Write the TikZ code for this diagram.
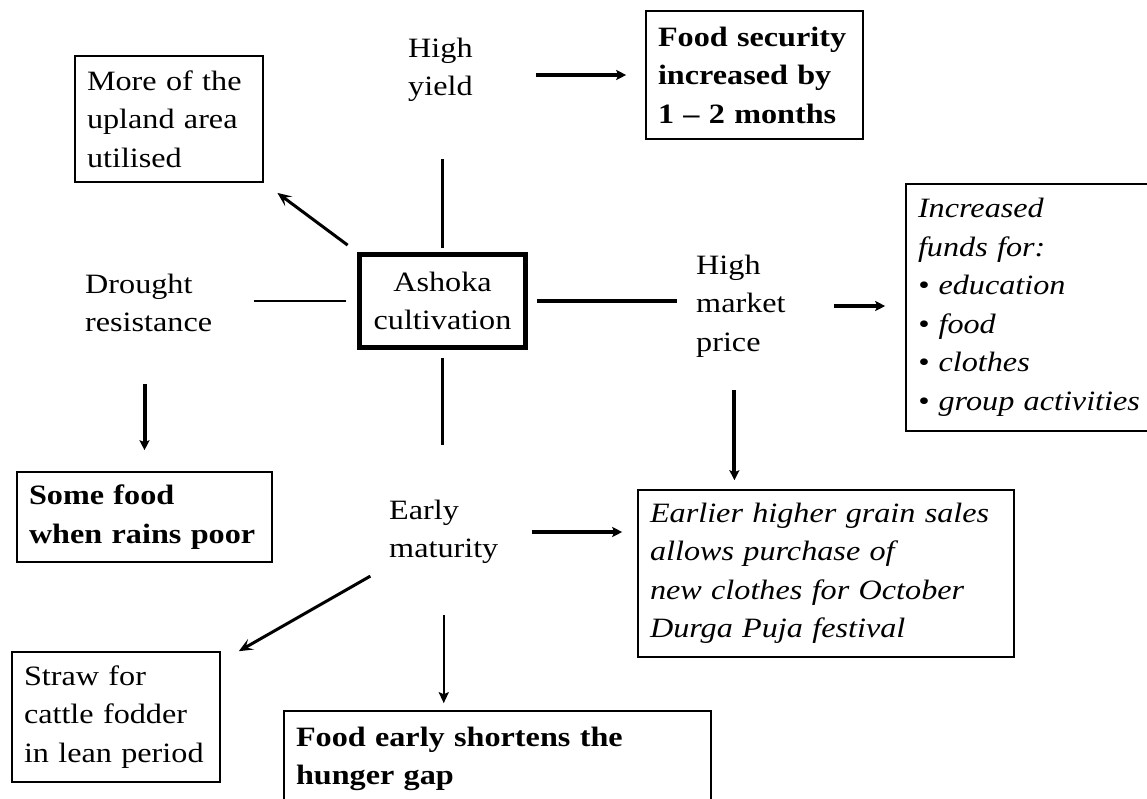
\documentclass[tikz,border=0pt]{standalone}
\usepackage{fontspec}
\setmainfont{Liberation Serif}[FakeStretch=1.15]
\usetikzlibrary{arrows.meta,positioning,calc}
\newcommand{\bodyfont}{\fontsize{28}{38.5}\selectfont}
\tikzset{
  box/.style={draw, line width=1.6pt, align=left, inner xsep=12pt, inner ysep=6pt},
  boldbox/.style={box, font=\bodyfont\bfseries},
  itbox/.style={box, font=\bodyfont\itshape},
  hubbox/.style={draw, line width=4.5pt, align=center, inner sep=6pt},
  plain/.style={align=left, inner sep=3pt},
  link/.style={line width=2.5pt},
  boldlink/.style={line width=4pt},
  arrow/.style={-{Stealth[length=10pt,width=10pt,inset=2pt]}, line width=4pt},
  thinarrow/.style={-{Stealth[length=11pt,width=10pt,inset=2pt]}, line width=2.5pt},
  slantarrow/.style={-{Stealth[length=14pt,width=12pt,inset=6pt]}, line width=3pt}
}
\begin{document}
\begin{tikzpicture}[x=1pt, y=-1pt, font=\bodyfont]
  \useasboundingbox (0,0) rectangle (1147,798);
  \clip (0,0) rectangle (1147,798);

  \node[hubbox, minimum width=166pt, minimum height=93pt] (ashoka) at (442.5,301) {Ashoka\\cultivation};

  % effects of the crop
  \node[plain, anchor=west] (yield) at (405,70) {High\\yield};
  \node[plain, anchor=west] (drought) at (82,303) {Drought\\resistance};
  \node[plain, anchor=west] (market) at (693,306) {High\\market\\price};
  \node[plain, anchor=west] (early) at (386,532) {Early\\maturity};

  % outcomes
  \node[box, text width=164pt, minimum height=126pt] (upland) at (169,119) {More of the\\upland area\\utilised};
  \node[boldbox, text width=193pt, minimum height=128pt] (foodsec) at (754.5,75) {Food security\\increased by\\1 -- 2 months};
  \node[itbox, text width=236pt, minimum height=247pt] (funds) at (1036,307.5) {Increased\\funds for:\\\textbullet\ education\\\textbullet\ food\\\textbullet\ clothes\\\textbullet\ group activities};
  \node[boldbox, text width=231pt, minimum height=90pt] (somefood) at (144.5,517) {Some food\\when rains poor};
  \node[itbox, text width=352pt, minimum height=167pt] (earlier) at (826,573.5) {Earlier higher grain sales\\allows purchase of\\new clothes for October\\Durga Puja festival};
  \node[box, text width=184pt, minimum height=130pt] (straw) at (116,717) {Straw for\\cattle fodder\\in lean period};
  \node[boldbox, text width=403pt, minimum height=96pt] (foodearly) at (497.5,759) {Food early shortens the\\hunger gap};

  \draw[link, shorten <=4pt, shorten >=54pt] (ashoka.north) -- (ashoka.north |- yield.south);
  \draw[link, shorten <=11pt, shorten >=39pt] (ashoka.west) -- (ashoka.west -| drought.east);
  \draw[boldlink, shorten <=9pt, shorten >=16pt] (ashoka.east) -- (ashoka.east -| market.west);
  \draw[link, shorten <=8pt, shorten >=52pt] (ashoka.south) -- (ashoka.south |- early.north);
  \draw[slantarrow, shorten <=12pt, shorten >=17pt] (ashoka.north west) -- (upland.south east);

  \draw[arrow, shorten <=60pt, shorten >=19pt] (yield.east |- foodsec.west) -- (foodsec.west);
  \draw[arrow, shorten <=45pt, shorten >=20pt] (market.east) -- (market.east -| funds.west);
  \draw[arrow, shorten <=30pt, shorten >=9pt] ([xshift=-6.5pt]market.south) -- ([xshift=-6.5pt]market.south |- earlier.north);
  \draw[arrow, shorten <=49pt, shorten >=21pt] (somefood.north |- drought.south) -- (somefood.north);
  \draw[arrow, shorten <=30pt, shorten >=15pt] (early.east) -- (early.east -| earlier.west);
  \draw[slantarrow, shorten <=18pt] (early.south west) -- ([xshift=18pt]straw.north east);
  \draw[thinarrow, shorten <=48pt, shorten >=7pt] (early.south) -- (early.south |- foodearly.north);
\end{tikzpicture}
\end{document}
